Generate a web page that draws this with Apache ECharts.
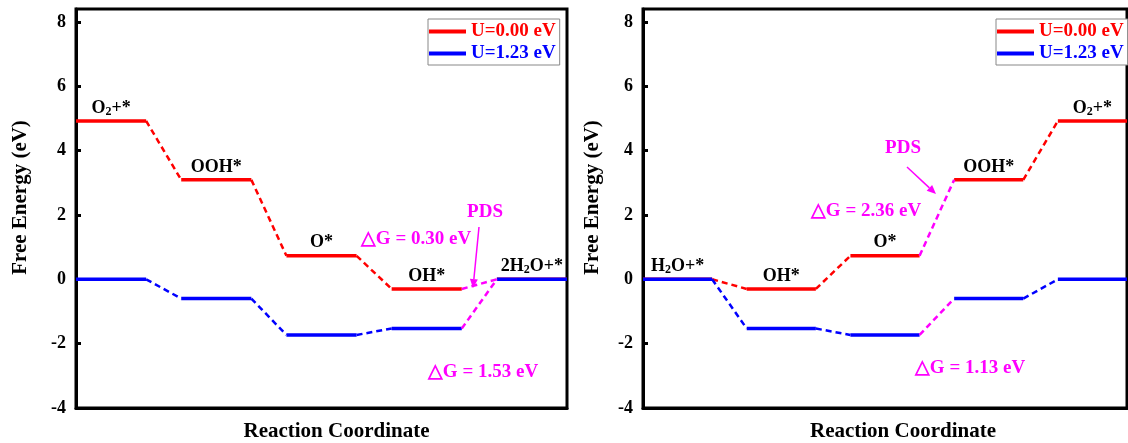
<!DOCTYPE html>
<html>
<head>
<meta charset="utf-8">
<script src="https://cdn.jsdelivr.net/npm/echarts@6/dist/echarts.min.js"></script>
<style>
html,body{margin:0;padding:0;background:#fff;}
#chart{width:1128px;height:443px;}
</style>
</head>
<body>
<div id="chart"></div>
<script>
// ---- data ----
const leftSpecies = ['O2+*', 'OOH*', 'O*', 'OH*', '2H2O+*'];
const leftU000 = [4.92, 3.09, 0.73, -0.30, 0.00];
const leftU123 = [0.00, -0.60, -1.73, -1.53, 0.00];
const rightSpecies = ['H2O+*', 'OH*', 'O*', 'OOH*', 'O2+*'];
const rightU000 = [0.00, -0.30, 0.73, 3.09, 4.92];
const rightU123 = [0.00, -1.53, -1.73, -0.60, 0.00];
const pdsStep = [3, 2];             // index of the rate-determining step in each panel
const legendNames = ['U=0.00 eV', 'U=1.23 eV'];
const yTicks = [-4, -2, 0, 2, 4, 6, 8];
const leftNotes = ['PDS', '\u25B3G = 0.30 eV', '\u25B3G = 1.53 eV'];
const rightNotes = ['PDS', '\u25B3G = 2.36 eV', '\u25B3G = 1.13 eV'];

// ---- styles / layout ----
const FONT = '"Liberation Serif", "Times New Roman", serif';
const RED = '#ff0000', BLUE = '#0000ff', MAG = '#ff00ff';

function levelData(vals) {
  const d = [];
  vals.forEach((v, i) => {
    d.push([3 * i, v], [3 * i + 2, v]);
    if (i < vals.length - 1) d.push([3 * i + 2, '-']);
  });
  return d;
}
function connData(vals, skip) {
  const d = [];
  for (let i = 0; i < vals.length - 1; i++) {
    if (i === skip) continue;
    d.push([3 * i + 2, vals[i]], [3 * i + 3, vals[i + 1]], [3 * i + 3, '-']);
  }
  return d;
}
function pdsData(vals, s) {
  return [[3 * s + 2, vals[s]], [3 * s + 3, vals[s + 1]]];
}
function richName(n) {
  // digit following a letter -> subscript
  let out = '';
  for (let i = 0; i < n.length; i++) {
    const c = n[i];
    if (/[0-9]/.test(c) && i > 0 && /[A-Za-z]/.test(n[i - 1])) out += '{s|' + c + '}';
    else out += '{n|' + c + '}';
  }
  return out;
}

const panels = [
  { u0: leftU000, u1: leftU123, sp: leftSpecies },
  { u0: rightU000, u1: rightU123, sp: rightSpecies }
];

const grids = [
  { left: 76, right: 561, top: 9, bottom: 35, show: true, borderColor: '#000', borderWidth: 3, backgroundColor: 'transparent', containLabel: false, outerBoundsMode: 'none' },
  { left: 643, right: 1, top: 9, bottom: 35, show: true, borderColor: '#000', borderWidth: 3, backgroundColor: 'transparent', containLabel: false, outerBoundsMode: 'none' }
];

const xAxes = [0, 1].map(i => ({
  gridIndex: i, type: 'value', min: 0, max: 14,
  axisLine: { show: true, onZero: false, lineStyle: { color: '#000', width: 3 } },
  axisTick: { show: false }, axisLabel: { show: false }, splitLine: { show: false },
  name: 'Reaction Coordinate', nameLocation: 'middle', nameGap: 13,
  nameTextStyle: { fontFamily: FONT, fontWeight: 'bold', fontSize: 21, color: '#000', padding: [0, 0, 0, i === 0 ? 30 : 36] }
}));

const yAxes = [0, 1].map(i => ({
  gridIndex: i, type: 'value', min: -4, max: 8.4, interval: 2,
  axisLine: { show: true, onZero: false, lineStyle: { color: '#000', width: 3 } },
  axisTick: { show: true, inside: true, length: 5, lineStyle: { color: '#000', width: 3 } },
  axisLabel: { showMaxLabel: false, margin: 10, fontFamily: FONT, fontWeight: 'bold', fontSize: 18, color: '#000',
    formatter: v => yTicks.indexOf(v) >= 0 ? String(v) : '' },
  splitLine: { show: false },
  name: 'Free Energy (eV)', nameLocation: 'middle', nameGap: i === 0 ? 45 : 40,
  nameTextStyle: { fontFamily: FONT, fontWeight: 'bold', fontSize: 21, color: '#000', padding: [0, 0, 0, 22] }
}));

const series = [];
panels.forEach((p, i) => {
  const common = { type: 'line', xAxisIndex: i, yAxisIndex: i, symbol: 'none', silent: true, connectNulls: false, animation: false };
  series.push(Object.assign({}, common, { name: legendNames[0], data: levelData(p.u0), color: RED, lineStyle: { color: RED, width: 3.5 }, z: 3 }));
  series.push(Object.assign({}, common, { name: legendNames[1], data: levelData(p.u1), color: BLUE, lineStyle: { color: BLUE, width: 3.5 }, z: 3 }));
  series.push(Object.assign({}, common, { name: 'c0_' + i, data: connData(p.u0, pdsStep[i]), lineStyle: { color: RED, width: 2.5, type: [6, 4] } }));
  series.push(Object.assign({}, common, { name: 'c1_' + i, data: connData(p.u1, pdsStep[i]), lineStyle: { color: BLUE, width: 2.5, type: [6, 4] } }));
  series.push(Object.assign({}, common, { name: 'p0_' + i, data: pdsData(p.u0, pdsStep[i]), lineStyle: { color: MAG, width: 2.5, type: [6, 4] } }));
  series.push(Object.assign({}, common, { name: 'p1_' + i, data: pdsData(p.u1, pdsStep[i]), lineStyle: { color: MAG, width: 2.5, type: [6, 4] } }));
  series.push({
    type: 'scatter', name: 'lab_' + i, xAxisIndex: i, yAxisIndex: i, symbolSize: 0, silent: true, animation: false,
    itemStyle: { color: '#000' }, z: 5,
    data: p.u0.map((v, k) => [3 * k + 1, v, p.sp[k]]),
    label: {
      show: true, position: 'top', distance: 3,
      fontFamily: FONT, fontWeight: 'bold', fontSize: 18, color: '#000', opacity: 1,
      formatter: prm => richName(prm.data[2]),
      rich: {
        n: { fontFamily: FONT, fontWeight: 'bold', fontSize: 18, color: '#000', lineHeight: 20, verticalAlign: 'middle' },
        s: { fontFamily: FONT, fontWeight: 'bold', fontSize: 12, color: '#000', lineHeight: 10, verticalAlign: 'bottom' }
      }
    }
  });
});

function legendAt(left) {
  return {
    orient: 'vertical', left: left, top: 19, padding: [3, 4, 2, 1], itemGap: 3,
    itemWidth: 37, itemHeight: 4, icon: 'rect',
    borderColor: '#888', borderWidth: 1, backgroundColor: '#fff',
    selectedMode: false,
    textStyle: { fontFamily: FONT, fontWeight: 'bold', fontSize: 19 },
    data: [
      { name: legendNames[0], itemStyle: { color: RED }, textStyle: { color: RED } },
      { name: legendNames[1], itemStyle: { color: BLUE }, textStyle: { color: BLUE } }
    ]
  };
}

function txt(t, x, y) {
  return { type: 'text', silent: true, z: 10, style: { text: t, x: x, y: y, fill: MAG, font: 'bold 19px ' + FONT, textAlign: 'center', textVerticalAlign: 'middle' } };
}
function arrow(x1, y1, x2, y2) {
  const a = Math.atan2(y2 - y1, x2 - x1), L = 9, W = 4;
  const bx = x2 - L * Math.cos(a), by = y2 - L * Math.sin(a);
  const nx = -Math.sin(a) * W, ny = Math.cos(a) * W;
  return [
    { type: 'line', silent: true, z: 10, shape: { x1: x1, y1: y1, x2: bx, y2: by }, style: { stroke: MAG, lineWidth: 1.5 } },
    { type: 'polygon', silent: true, z: 10, shape: { points: [[x2, y2], [bx + nx, by + ny], [bx - nx, by - ny]] }, style: { fill: MAG } }
  ];
}

const graphics = [
  txt(leftNotes[0], 485, 212), txt(leftNotes[1], 416, 239), txt(leftNotes[2], 483, 372),
  txt(rightNotes[0], 903, 148), txt(rightNotes[1], 866, 211), txt(rightNotes[2], 970, 368)
].concat(arrow(479, 227, 473, 288)).concat(arrow(907, 167, 936, 194));

const chart = echarts.init(document.getElementById('chart'), null, { renderer: 'canvas' });
chart.setOption({
  animation: false,
  backgroundColor: '#fff',
  grid: grids, xAxis: xAxes, yAxis: yAxes,
  legend: [legendAt(428), legendAt(996)],
  series: series,
  graphic: graphics
});
</script>
</body>
</html>
